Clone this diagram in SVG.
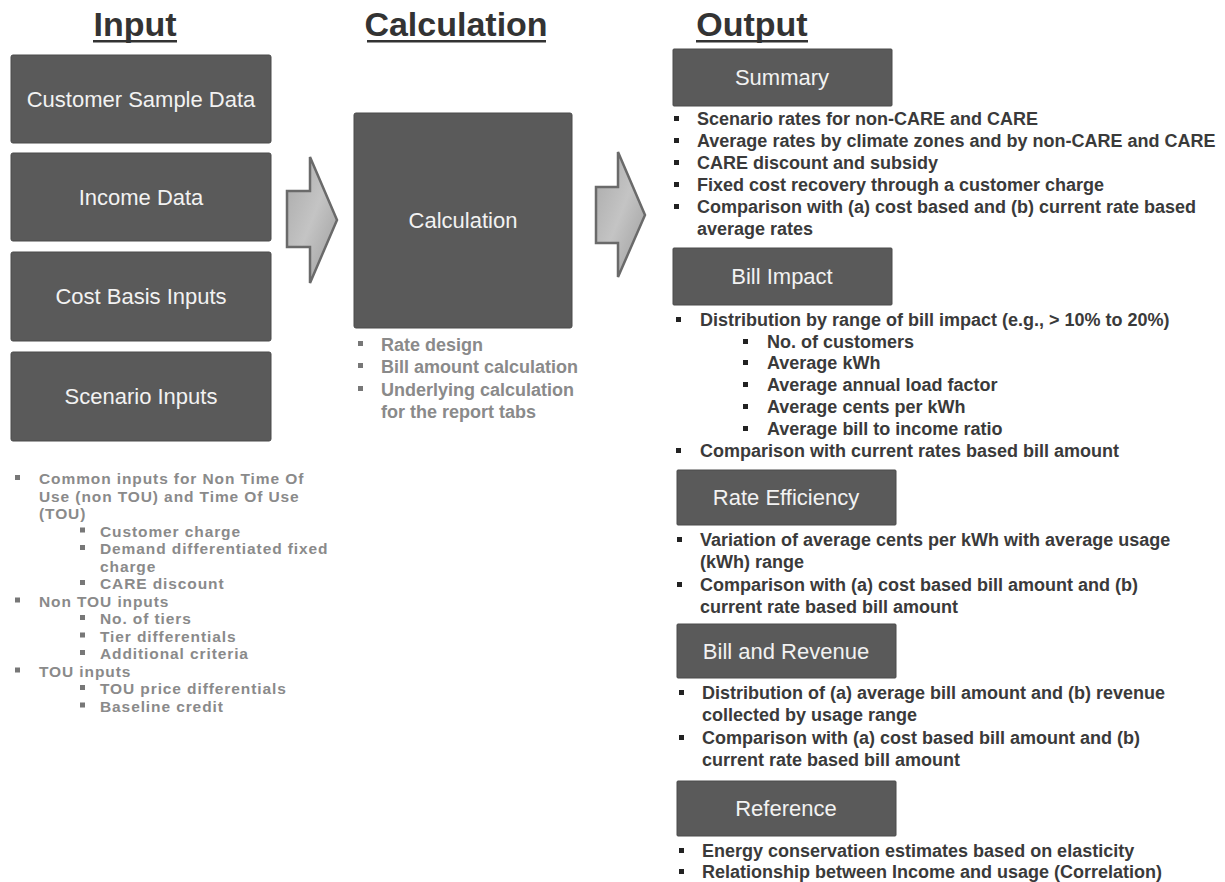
<svg xmlns="http://www.w3.org/2000/svg" width="1225" height="882" viewBox="0 0 1225 882">
<defs>
<style>
.title{font-family:"Liberation Sans",Arial,sans-serif;font-weight:bold;font-size:34px;fill:#333;text-anchor:middle}
.ul{fill:#333}
.box{fill:#5a5a5a;stroke:#4a4a4a;stroke-width:1}
.lbl{font-family:"Liberation Sans",Arial,sans-serif;font-size:22px;fill:#f2f2f2;text-anchor:middle}
.bo{font-family:"Liberation Sans",Arial,sans-serif;font-weight:bold;font-size:18px;fill:#3a3a3a}
.bg{font-family:"Liberation Sans",Arial,sans-serif;font-weight:bold;font-size:18px;fill:#8a8a8a}
.bi{font-family:"Liberation Sans",Arial,sans-serif;font-weight:bold;font-size:15.5px;letter-spacing:0.9px;fill:#8a8a8a}
.dk{fill:#222}
.gy{fill:#777}
.arrow{fill:url(#ag);stroke:#6a6a6a;stroke-width:2.5;stroke-linejoin:miter}
</style>
<linearGradient id="ag" x1="0" y1="0" x2="1" y2="1">
<stop offset="0" stop-color="#a8a8a8"/>
<stop offset="0.5" stop-color="#c4c4c4"/>
<stop offset="1" stop-color="#9a9a9a"/>
</linearGradient>
</defs>
<rect width="1225" height="882" fill="#fff"/>

<g id="titles">
<text class="title" x="135" y="36">Input</text>
<rect class="ul" x="93" y="40" width="84" height="2.5"/>
<text class="title" x="456" y="36">Calculation</text>
<rect class="ul" x="367" y="40" width="179" height="2.5"/>
<text class="title" x="752" y="36">Output</text>
<rect class="ul" x="696" y="40" width="112" height="2.5"/>
</g>

<g id="input-customer">
<rect class="box" x="11" y="55" width="260" height="88" rx="2"/>
<text class="lbl" x="141" y="107">Customer Sample Data</text>
</g>
<g id="input-income">
<rect class="box" x="11" y="153" width="260" height="88" rx="2"/>
<text class="lbl" x="141" y="205">Income Data</text>
</g>
<g id="input-cost">
<rect class="box" x="11" y="252" width="260" height="89" rx="2"/>
<text class="lbl" x="141" y="304">Cost Basis Inputs</text>
</g>
<g id="input-scenario">
<rect class="box" x="11" y="352" width="260" height="89" rx="2"/>
<text class="lbl" x="141" y="404">Scenario Inputs</text>
</g>

<g id="input-notes">
<rect class="gy" x="15" y="475" width="5" height="5"/>
<text class="bi" x="39" y="484">Common inputs for Non Time Of</text>
<text class="bi" x="39" y="501.5">Use (non TOU) and Time Of Use</text>
<text class="bi" x="39" y="519">(TOU)</text>
<rect class="gy" x="80" y="527.5" width="5" height="5"/>
<text class="bi" x="100" y="536.5">Customer charge</text>
<rect class="gy" x="80" y="545" width="5" height="5"/>
<text class="bi" x="100" y="554">Demand differentiated fixed</text>
<text class="bi" x="100" y="571.5">charge</text>
<rect class="gy" x="80" y="580" width="5" height="5"/>
<text class="bi" x="100" y="589">CARE discount</text>
<rect class="gy" x="15" y="597.5" width="5" height="5"/>
<text class="bi" x="39" y="606.5">Non TOU inputs</text>
<rect class="gy" x="80" y="615" width="5" height="5"/>
<text class="bi" x="100" y="624">No. of tiers</text>
<rect class="gy" x="80" y="632.5" width="5" height="5"/>
<text class="bi" x="100" y="641.5">Tier differentials</text>
<rect class="gy" x="80" y="650" width="5" height="5"/>
<text class="bi" x="100" y="659">Additional criteria</text>
<rect class="gy" x="15" y="667.5" width="5" height="5"/>
<text class="bi" x="39" y="676.5">TOU inputs</text>
<rect class="gy" x="80" y="685" width="5" height="5"/>
<text class="bi" x="100" y="694">TOU price differentials</text>
<rect class="gy" x="80" y="702.5" width="5" height="5"/>
<text class="bi" x="100" y="711.5">Baseline credit</text>
</g>

<g id="connectors">
<polygon class="arrow" points="287,191 310,191 310,157 337,220 310,283 310,247 287,247"/>
<polygon class="arrow" points="596,187 618,187 618,152 645,215 618,277 618,243 596,243"/>
</g>

<g id="calculation">
<rect class="box" x="354" y="113" width="218" height="215" rx="2"/>
<text class="lbl" x="463" y="228">Calculation</text>
<rect class="gy" x="358" y="341" width="5" height="5"/>
<text class="bg" x="381" y="351">Rate design</text>
<rect class="gy" x="358" y="363" width="5" height="5"/>
<text class="bg" x="381" y="373">Bill amount calculation</text>
<rect class="gy" x="358" y="386" width="5" height="5"/>
<text class="bg" x="381" y="396">Underlying calculation</text>
<text class="bg" x="381" y="418">for the report tabs</text>
</g>

<g id="output-summary">
<rect class="box" x="673" y="49" width="219" height="57" rx="1"/>
<text class="lbl" x="782" y="85">Summary</text>
<rect class="dk" x="674" y="116" width="5" height="5"/>
<text class="bo" x="697" y="125">Scenario rates for non-CARE  and CARE</text>
<rect class="dk" x="674" y="138" width="5" height="5"/>
<text class="bo" x="697" y="147">Average rates by climate zones and by non-CARE  and CARE</text>
<rect class="dk" x="674" y="160" width="5" height="5"/>
<text class="bo" x="697" y="169">CARE discount and subsidy</text>
<rect class="dk" x="674" y="182" width="5" height="5"/>
<text class="bo" x="697" y="191">Fixed cost recovery through a customer charge</text>
<rect class="dk" x="674" y="204" width="5" height="5"/>
<text class="bo" x="697" y="213">Comparison with (a) cost based and (b) current rate based</text>
<text class="bo" x="697" y="235">average rates</text>
</g>

<g id="output-bill-impact">
<rect class="box" x="673" y="248" width="219" height="57" rx="1"/>
<text class="lbl" x="782" y="284">Bill Impact</text>
<rect class="dk" x="676" y="317" width="5" height="5"/>
<text class="bo" x="700" y="326">Distribution by range of bill impact (e.g.,  &gt; 10% to 20%)</text>
<rect class="dk" x="743" y="339" width="5" height="5"/>
<text class="bo" x="767" y="348">No. of customers</text>
<rect class="dk" x="743" y="360" width="5" height="5"/>
<text class="bo" x="767" y="369">Average kWh</text>
<rect class="dk" x="743" y="382" width="5" height="5"/>
<text class="bo" x="767" y="391">Average annual load factor</text>
<rect class="dk" x="743" y="404" width="5" height="5"/>
<text class="bo" x="767" y="413">Average cents per kWh</text>
<rect class="dk" x="743" y="426" width="5" height="5"/>
<text class="bo" x="767" y="435">Average bill to income ratio</text>
<rect class="dk" x="676" y="448" width="5" height="5"/>
<text class="bo" x="700" y="457">Comparison with current rates based bill amount</text>
</g>

<g id="output-rate-efficiency">
<rect class="box" x="677" y="470" width="219" height="55" rx="1"/>
<text class="lbl" x="786" y="505">Rate Efficiency</text>
<rect class="dk" x="677" y="537" width="5" height="5"/>
<text class="bo" x="700" y="546">Variation of average cents per kWh with average usage</text>
<text class="bo" x="700" y="568">(kWh) range</text>
<rect class="dk" x="677" y="582" width="5" height="5"/>
<text class="bo" x="700" y="591">Comparison with (a) cost based bill amount and (b)</text>
<text class="bo" x="700" y="613">current rate based bill amount</text>
</g>

<g id="output-bill-revenue">
<rect class="box" x="677" y="624" width="219" height="54" rx="1"/>
<text class="lbl" x="786" y="659">Bill and Revenue</text>
<rect class="dk" x="679" y="690" width="5" height="5"/>
<text class="bo" x="702" y="699">Distribution of (a) average bill amount and (b) revenue</text>
<text class="bo" x="702" y="721">collected by usage range</text>
<rect class="dk" x="679" y="735" width="5" height="5"/>
<text class="bo" x="702" y="744">Comparison with (a) cost based bill amount and (b)</text>
<text class="bo" x="702" y="766">current rate based bill amount</text>
</g>

<g id="output-reference">
<rect class="box" x="677" y="781" width="219" height="55" rx="1"/>
<text class="lbl" x="786" y="816">Reference</text>
<rect class="dk" x="679" y="848" width="5" height="5"/>
<text class="bo" x="702" y="857">Energy conservation estimates based on elasticity</text>
<rect class="dk" x="679" y="869" width="5" height="5"/>
<text class="bo" x="702" y="878">Relationship between Income and usage (Correlation)</text>
</g>
</svg>
